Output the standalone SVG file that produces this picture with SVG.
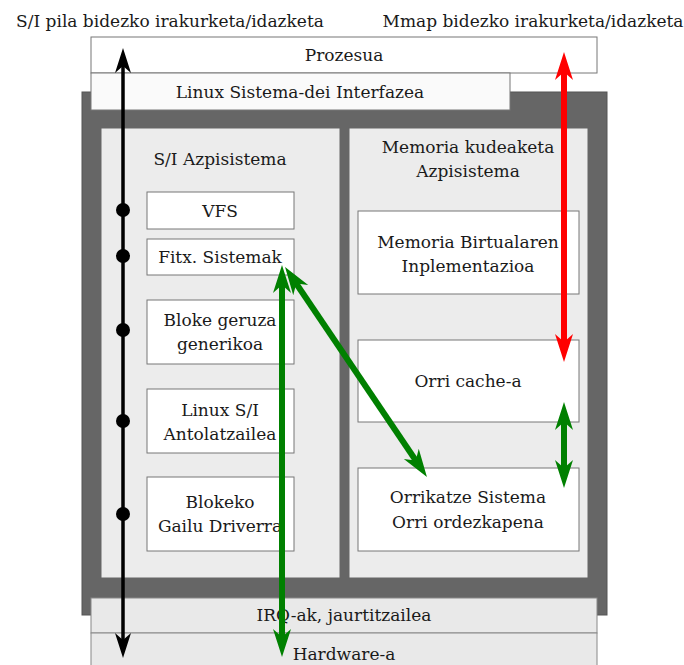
<svg xmlns="http://www.w3.org/2000/svg" width="684" height="665" viewBox="0 0 684 665">
<defs>
<style>
text{font-family:"DejaVu Serif","Liberation Serif",serif;font-size:17px;fill:#1a1a1a;text-anchor:middle}
.box{fill:#fff;stroke:#777;stroke-width:1}
.panel{fill:#ececec;stroke:#666;stroke-width:1}
.band{fill:#e9e9e9;stroke:#888;stroke-width:1}
.g{stroke:#008000;stroke-width:6;marker-start:url(#hg);marker-end:url(#hg)}
</style>
<marker id="hk" markerUnits="userSpaceOnUse" markerWidth="28" markerHeight="20" viewBox="0 -10 28 20" refX="10" refY="0" orient="auto-start-reverse"><path d="M0,-8 L25,0 L0,8 L7,0 z" fill="#000"/></marker>
<marker id="hr" markerUnits="userSpaceOnUse" markerWidth="30" markerHeight="20" viewBox="0 -10 30 20" refX="12" refY="0" orient="auto-start-reverse"><path d="M0,-9 L28,0 L0,9 L8,0 z" fill="#f00"/></marker>
<marker id="hg" markerUnits="userSpaceOnUse" markerWidth="30" markerHeight="20" viewBox="0 -10 30 20" refX="12" refY="0" orient="auto-start-reverse"><path d="M0,-9 L28,0 L0,9 L8,0 z" fill="#008000"/></marker>
</defs>
<g font-family="DejaVu Serif, Liberation Serif, serif">
<text x="170" y="27">S/I pila bidezko irakurketa/idazketa</text>
<text x="533" y="27">Mmap bidezko irakurketa/idazketa</text>
<g id="kernel"><rect x="82" y="92" width="525" height="523" fill="#666" stroke="#555"/></g>
<g id="prozesua"><rect class="box" x="91" y="37" width="506" height="36"/><text x="344" y="61">Prozesua</text></g>
<g id="syscall"><rect x="91" y="73" width="419" height="37" fill="#fafafa" stroke="#777"/><text x="300" y="98">Linux Sistema-dei Interfazea</text></g>
<g id="io-sub"><rect class="panel" x="101" y="128" width="239" height="450"/><text x="220" y="165">S/I Azpisistema</text></g>
<g id="mem-sub"><rect class="panel" x="349" y="128" width="239" height="450"/><text x="468" y="153">Memoria kudeaketa</text><text x="468" y="177">Azpisistema</text></g>
<g id="vfs"><rect class="box" x="147" y="192" width="147" height="37"/><text x="220" y="217">VFS</text></g>
<g id="fitx"><rect class="box" x="147" y="239" width="147" height="36"/><text x="220" y="263">Fitx. Sistemak</text></g>
<g id="bloke"><rect class="box" x="147" y="300" width="147" height="64"/><text x="220" y="326">Bloke geruza</text><text x="220" y="350">generikoa</text></g>
<g id="antol"><rect class="box" x="147" y="389" width="147" height="64"/><text x="220" y="416">Linux S/I</text><text x="220" y="440">Antolatzailea</text></g>
<g id="driver"><rect class="box" x="147" y="477" width="147" height="74"/><text x="220" y="508">Blokeko</text><text x="220" y="532">Gailu Driverra</text></g>
<g id="vm"><rect class="box" x="358" y="211" width="221" height="83"/><text x="468" y="248">Memoria Birtualaren</text><text x="468" y="272">Inplementazioa</text></g>
<g id="cache"><rect class="box" x="358" y="340" width="221" height="82"/><text x="468" y="387">Orri cache-a</text></g>
<g id="paging"><rect class="box" x="358" y="468" width="221" height="83"/><text x="468" y="503">Orrikatze Sistema</text><text x="468" y="528">Orri ordezkapena</text></g>
<g id="irq"><rect class="band" x="91" y="598" width="506" height="35"/><text x="344" y="621">IRQ-ak, jaurtitzailea</text></g>
<g id="hw"><rect class="band" x="91" y="633" width="506" height="40"/><text x="344" y="660">Hardware-a</text></g>
</g>
<g id="connectors">
<line x1="123" y1="63" x2="123" y2="643" stroke="#000" stroke-width="3.5" marker-start="url(#hk)" marker-end="url(#hk)"/>
<g fill="#000"><circle cx="123" cy="210" r="7"/><circle cx="123" cy="256" r="7"/><circle cx="123" cy="330" r="7"/><circle cx="123" cy="421" r="7"/><circle cx="123" cy="514" r="7"/></g>
<line x1="564" y1="68" x2="564" y2="346" stroke="#f00" stroke-width="6" marker-start="url(#hr)" marker-end="url(#hr)"/>
<line class="g" x1="282" y1="281" x2="282" y2="641"/>
<line class="g" x1="294" y1="280.2" x2="418" y2="463.8"/>
<line class="g" x1="564" y1="418" x2="564" y2="472"/>
</g>
</svg>
